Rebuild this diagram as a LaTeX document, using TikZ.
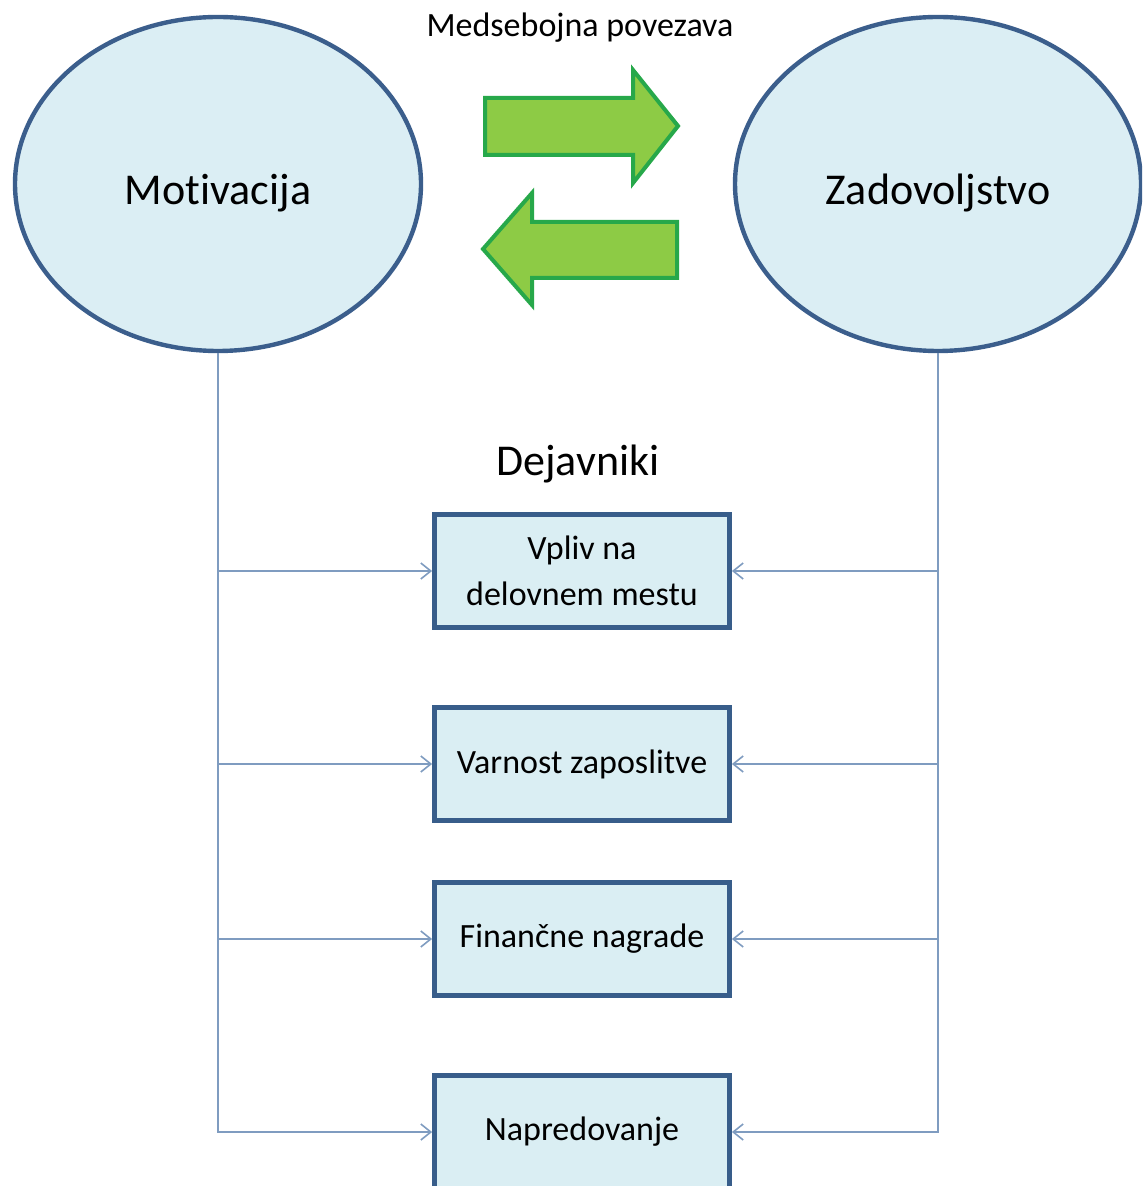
\documentclass[tikz,border=0pt]{standalone}
\usepackage{fontspec}
\setmainfont{Carlito}[Ligatures=NoCommon]
\usepackage{tikz}
\usetikzlibrary{arrows.meta}
\usetikzlibrary{positioning,shapes.geometric}

\definecolor{ovalfill}{HTML}{DBEEF4}
\definecolor{ovalline}{HTML}{3B5E8C}
\definecolor{boxfill}{HTML}{DAEEF3}
\definecolor{boxline}{HTML}{385D8A}
\definecolor{linkline}{HTML}{7F9CC0}
\definecolor{greenfill}{HTML}{8DCB45}
\definecolor{greenline}{HTML}{27A84A}

\tikzset{
        oval/.style={ellipse, draw=ovalline, fill=ovalfill, line width=2.2pt, inner sep=0pt,
                minimum width=203pt, minimum height=167pt, text height=21pt, text depth=0pt,
                font=\fontsize{22pt}{26pt}\selectfont},
        factor/.style={rectangle, draw=boxline, fill=boxfill, line width=2.4pt, inner sep=0pt,
                minimum width=147.5pt, minimum height=56.5pt, align=center,
                font=\fontsize{17pt}{23pt}\selectfont},
        feed/.style={draw=linkline, line width=0.8pt, -{Straight Barb[length=5pt,width=8pt]}},
        bigarrow/.style={draw=greenline, fill=greenfill, line width=2pt, line join=miter}
}

\begin{document}
\begin{tikzpicture}[x=0.5pt, y=-0.5pt]
        \clip (0,0) rectangle (1142,1186);
        \node[oval] (mot) at (218,184) {Motivacija};
        \node[oval] (zad) at (938,184) {Zadovoljstvo};
        \node[anchor=base, font=\fontsize{17pt}{20pt}\selectfont] (link) at (580,37) {Medsebojna povezava};
        % green arrows between the two ovals
        \draw[bigarrow] (485,98) -- (633,98) -- (633,70) -- (678,126) -- (633,183) -- (633,155) -- (485,155) -- cycle;
        \draw[bigarrow] (677,222) -- (532,222) -- (532,193) -- (483,249) -- (532,305) -- (532,278) -- (677,278) -- cycle;
        \node[anchor=base, font=\fontsize{22pt}{26pt}\selectfont] (dej) at (578,476) {Dejavniki};
        \node[factor] (b1) at (582,571) {Vpliv na\\delovnem mestu};
        \node[factor] (b2) at (582,764) {Varnost zaposlitve};
        \node[factor] (b3) at (582,939) {Finančne nagrade};
        \node[factor] (b4) at (582,1132) {Napredovanje};
        \draw[feed] (mot.south) |- (b4.west);
        \draw[feed] (mot.south |- b1.west) -- (b1.west);
        \draw[feed] (mot.south |- b2.west) -- (b2.west);
        \draw[feed] (mot.south |- b3.west) -- (b3.west);
        \draw[feed] (zad.south) |- (b4.east);
        \draw[feed] (zad.south |- b1.east) -- (b1.east);
        \draw[feed] (zad.south |- b2.east) -- (b2.east);
        \draw[feed] (zad.south |- b3.east) -- (b3.east);
\end{tikzpicture}
\end{document}
